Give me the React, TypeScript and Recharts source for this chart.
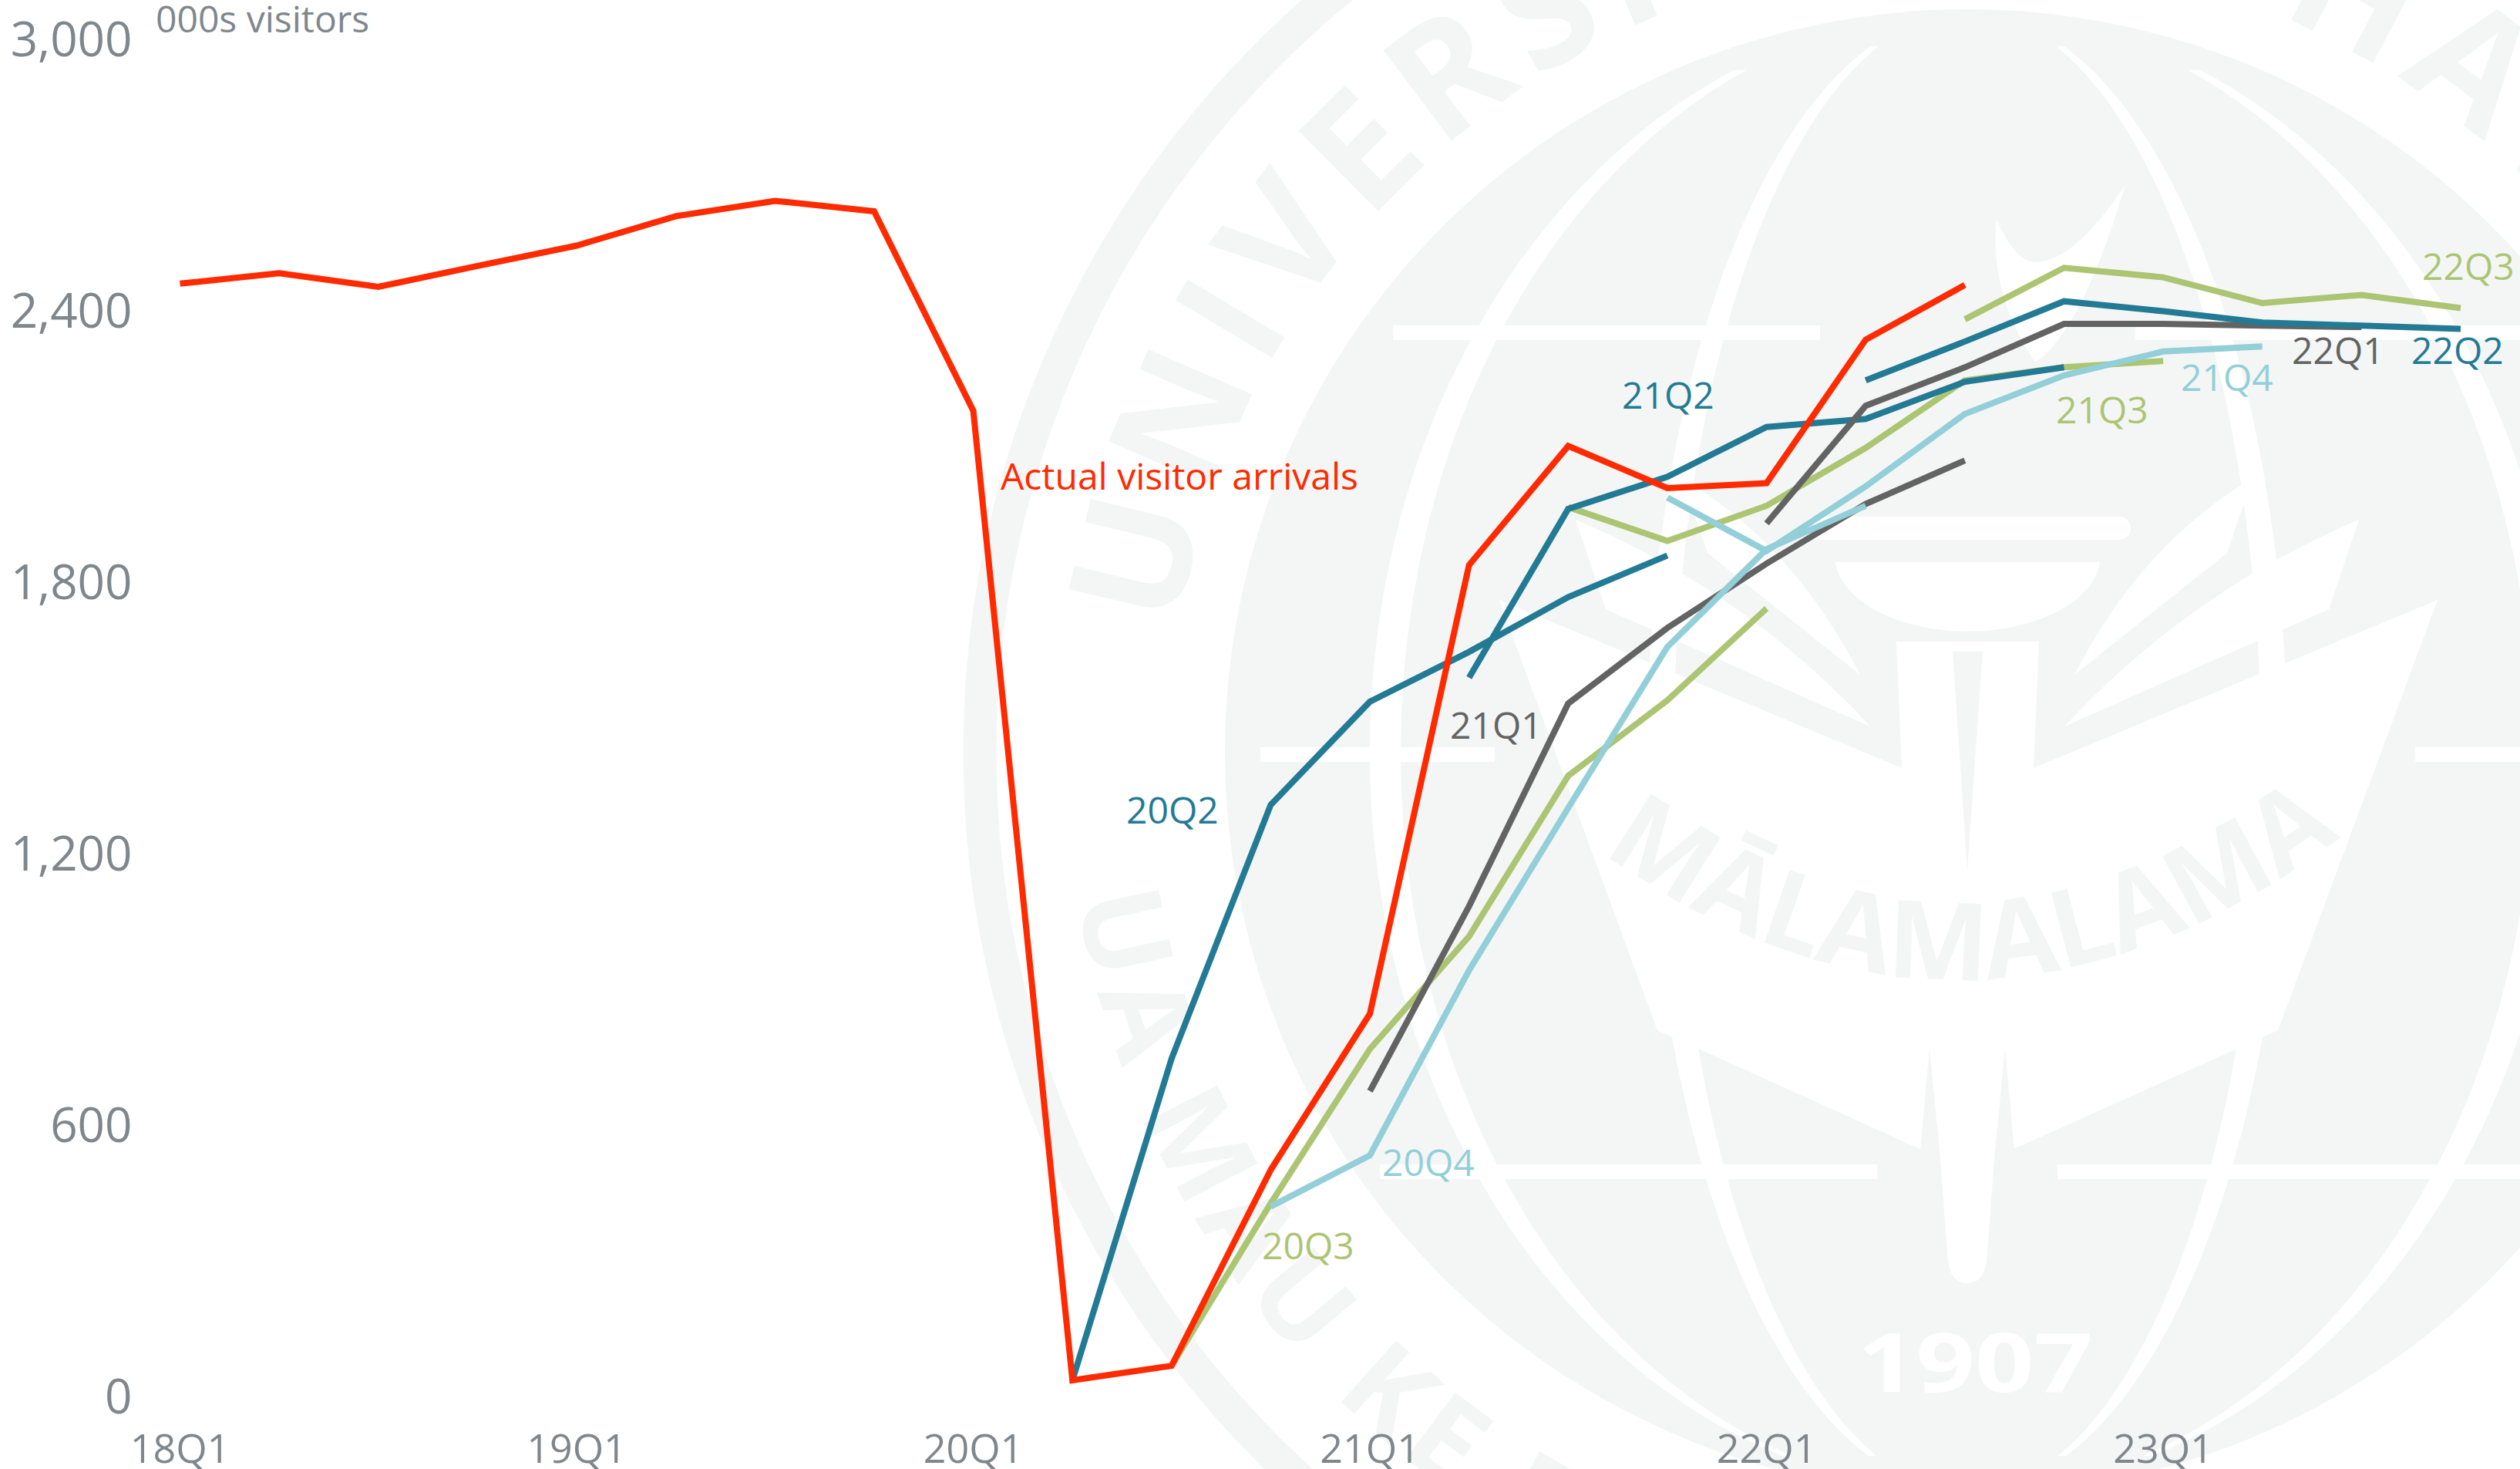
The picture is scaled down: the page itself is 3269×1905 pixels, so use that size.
import { LineChart, Line, XAxis, YAxis } from 'recharts';

const quarters = [
  '18Q1', '18Q2', '18Q3', '18Q4', '19Q1', '19Q2', '19Q3', '19Q4',
  '20Q1', '20Q2', '20Q3', '20Q4', '21Q1', '21Q2', '21Q3', '21Q4',
  '22Q1', '22Q2', '22Q3', '22Q4', '23Q1', '23Q2', '23Q3', '23Q4',
];
const xTicks = ['18Q1', '19Q1', '20Q1', '21Q1', '22Q1', '23Q1'];
const yTicks = [0, 600, 1200, 1800, 2400, 3000];

// thousands of visitors, each list starts at the quarter in its name
const actual = [2460, 2483, 2453, 2499, 2544, 2609, 2643, 2620, 2179, 36, 68, 501, 846, 1838, 2101, 2008, 2019, 2336, 2457];
const f20Q2 = [36, 747, 1308, 1536, 1646, 1767, 1859];
const f20Q3 = [68, 427, 768, 1017, 1372, 1539, 1742];
const f20Q4 = [420, 533, 942, 1301, 1657, 1873, 1969];
const f21Q1 = [675, 1084, 1532, 1699, 1841, 1973, 2069];
const f21Q2 = [1589, 1962, 2033, 2143, 2161, 2243, 2275];
const f21Q3 = [1966, 1891, 1969, 2097, 2246, 2275, 2289];
const f21Q4 = [1987, 1869, 2012, 2172, 2257, 2310, 2321];
const f22Q1 = [1930, 2190, 2275, 2371, 2371, 2367, 2364];
const f22Q2 = [2246, 2332, 2421, 2399, 2374, 2367, 2360];
const f22Q3 = [2381, 2495, 2474, 2417, 2435, 2406];

const TEAL = '#237a94';
const GREEN = '#acc572';
const LIGHT = '#92cfd8';
const GRAY = '#636363';
const RED = '#ff2a00';
const AXIS = '#7f878c';
const SEAL = '#f4f6f5';
const FONT = '"Open Sans", sans-serif';

const series = [
  { key: '20Q2', start: '20Q2', values: f20Q2, color: TEAL },
  { key: '20Q3', start: '20Q3', values: f20Q3, color: GREEN },
  { key: '21Q1', start: '21Q1', values: f21Q1, color: GRAY },
  { key: '20Q4', start: '20Q4', values: f20Q4, color: LIGHT },
  { key: '21Q3', start: '21Q3', values: f21Q3, color: GREEN },
  { key: '21Q2', start: '21Q2', values: f21Q2, color: TEAL },
  { key: '21Q4', start: '21Q4', values: f21Q4, color: LIGHT },
  { key: '22Q1', start: '22Q1', values: f22Q1, color: GRAY },
  { key: '22Q3', start: '22Q3', values: f22Q3, color: GREEN },
  { key: '22Q2', start: '22Q2', values: f22Q2, color: TEAL },
  { key: 'actual', start: '18Q1', values: actual, color: RED },
];

const data = quarters.map((q, i) => {
  const row: Record<string, string | number | null> = { q };
  series.forEach((s) => {
    const v = s.values[i - quarters.indexOf(s.start)];
    row[s.key] = v === undefined ? null : v;
  });
  return row;
});

const seriesLabels = [
  { text: 'Actual visitor arrivals', x: 1298, y: 635, color: RED },
  { text: '20Q2', x: 1461, y: 1068, color: TEAL },
  { text: '20Q3', x: 1637, y: 1633, color: GREEN },
  { text: '20Q4', x: 1793, y: 1525, color: LIGHT },
  { text: '21Q1', x: 1881, y: 958, color: GRAY },
  { text: '21Q2', x: 2104, y: 530, color: TEAL },
  { text: '21Q3', x: 2667, y: 549, color: GREEN },
  { text: '21Q4', x: 2829, y: 507, color: LIGHT },
  { text: '22Q1', x: 2973, y: 472, color: GRAY },
  { text: '22Q2', x: 3128, y: 472, color: TEAL },
  { text: '22Q3', x: 3142, y: 363, color: GREEN },
];

const CX = 2552;
const CY = 975;

// faint university seal behind the chart
const meridian = (a: number, w: number) => {
  const ry = 960;
  return `M${CX} ${CY - ry} A${a} ${ry} 0 0 0 ${CX} ${CY + ry} A${a - w} ${ry} 0 0 1 ${CX} ${CY - ry} Z
    M${CX} ${CY - ry} A${a} ${ry} 0 0 1 ${CX} ${CY + ry} A${a - w} ${ry} 0 0 0 ${CX} ${CY - ry} Z`;
};

const leaf = (x0: number, y0: number, x1: number, y1: number, x2: number, y2: number, mirror: boolean) => {
  const m = (x: number) => (mirror ? 2 * CX - x : x);
  return `M${m(x0)} ${y0} Q${m((x0 + x1) / 2 - 30)} ${(y0 + y1) / 2 - 40} ${m(x1)} ${y1} L${m(x2)} ${y2} Z`;
};

const Seal = () => (
  <svg width={3269} height={1905} style={{ position: 'absolute', left: 0, top: 0 }}>
    <defs>
      <path id="sealTop" d={`M${CX - 1036} ${CY} A1036 1036 0 0 1 ${CX + 1036} ${CY}`} />
      <path id="sealBottom" d={`M${CX - 1170} ${CY} A1170 1170 0 0 0 ${CX + 1170} ${CY}`} />
      <path id="sealBook" d="M2085 1110 Q2552 1440 3030 1090" />
      <clipPath id="outerArc"><rect x={1500} y={91} width={1800} height={1797} /></clipPath>
      <clipPath id="innerArc"><rect x={1500} y={60} width={1800} height={1828} /></clipPath>
    </defs>
    <circle cx={CX} cy={CY} r={1281} fill="none" stroke={SEAL} strokeWidth={43} />
    <circle cx={CX} cy={CY} r={963} fill={SEAL} />
    <text fontFamily={FONT} fontWeight={700} fontSize={205} letterSpacing={17} wordSpacing={30} fill={SEAL}>
      <textPath href="#sealTop" startOffset={160}>UNIVERSITY OF HAWAIʻI</textPath>
    </text>
    <text fontFamily={FONT} fontWeight={700} fontSize={150} letterSpacing={12} fill={SEAL}>
      <textPath href="#sealBottom" startOffset={190}>UA MAU KE EA O KA ʻĀINA</textPath>
    </text>
    <path d={meridian(775, 40)} fill="#fff" clipPath="url(#outerArc)" />
    <path d={meridian(415, 34)} fill="#fff" clipPath="url(#innerArc)" />
    <g fill="#fff">
      <rect x={1807} y={422} width={554} height={19} />
      <rect x={2770} y={422} width={499} height={19} />
      <rect x={1635} y={969} width={304} height={19} />
      <rect x={3133} y={969} width={136} height={19} />
      <rect x={1790} y={1510} width={645} height={19} />
      <rect x={2669} y={1510} width={600} height={19} />
      <path d="M1945 778 L2467 996 L2460 832 L2645 832 L2638 996 L3162 778 L2955 1336 L2612 1490 L2491 1490 L2150 1336 Z" />
      <path d="M2506 1358 L2527 1635 Q2531 1664 2552 1664 Q2573 1664 2577 1635 L2598 1358 Z" />
      <rect x={2340} y={670} width={424} height={30} rx={15} />
      <path d="M2381 729 L2724 729 A172 97 0 0 1 2381 729 Z" />
      <path d="M2757 240 Q2690 340 2640 340 Q2615 340 2590 285 Q2580 380 2640 470 Q2700 430 2757 240 Z" />
      <path d={leaf(2922, 620, 2691, 875, 2889, 717, false)} />
      <path d={leaf(3060, 674, 2678, 942, 3021, 790, false)} />
      <path d={leaf(2922, 620, 2691, 875, 2889, 717, true)} />
      <path d={leaf(3060, 674, 2678, 942, 3021, 790, true)} />
    </g>
    <g fill={SEAL}>
      <path d="M2533 845 L2572 845 L2552 1130 Z" />
      <path d="M2503 1358 L2491 1492 L2516 1492 Z" />
      <path d="M2601 1358 L2613 1492 L2588 1492 Z" />
    </g>
    <text fontFamily={FONT} fontWeight={700} fontSize={140} fill={SEAL} textAnchor="middle">
      <textPath href="#sealBook" startOffset="50%">MĀLAMALAMA</textPath>
    </text>
    <text x={2409} y={1805} fontFamily={FONT} fontWeight={700} fontSize={105} fill="#fff" textLength={306} lengthAdjust="spacingAndGlyphs">1907</text>
  </svg>
);

const App = () => (
  <div style={{ position: 'absolute', left: 0, top: 0, width: 3269, height: 1905, overflow: 'hidden', background: '#fff' }}>
    <Seal />
    <div style={{ position: 'absolute', left: 0, top: 0 }}>
      <LineChart width={3269} height={1905} data={data} margin={{ top: 51, right: 77, bottom: 0, left: 0 }}>
        <XAxis
          dataKey="q"
          ticks={xTicks}
          interval={0}
          height={94}
          axisLine={false}
          tickLine={false}
          tickMargin={43}
          tick={{ fontSize: 52, fill: AXIS, fontFamily: FONT, fontWeight: 400 }}
        />
        <YAxis
          domain={[0, 3000]}
          ticks={yTicks}
          width={233.5}
          axisLine={false}
          tickLine={false}
          tickMargin={56}
          tickFormatter={(v: number) => v.toLocaleString('en-US')}
          tick={{ fontSize: 62, fill: AXIS, fontFamily: FONT, fontWeight: 400 }}
        />
        {series.map((s) => (
          <Line
            key={s.key}
            dataKey={s.key}
            stroke={s.color}
            strokeWidth={8}
            strokeLinejoin="miter"
            dot={false}
            connectNulls={false}
            isAnimationActive={false}
          />
        ))}
      </LineChart>
    </div>
    <svg width={3269} height={1905} style={{ position: 'absolute', left: 0, top: 0 }}>
      <text x={202} y={42} fontFamily={FONT} fontSize={48} fill={AXIS}>000s visitors</text>
      {seriesLabels.map((l) => (
        <text key={l.text} x={l.x} y={l.y} fontFamily={FONT} fontSize={48} fill={l.color}>{l.text}</text>
      ))}
    </svg>
  </div>
);

export default App;
